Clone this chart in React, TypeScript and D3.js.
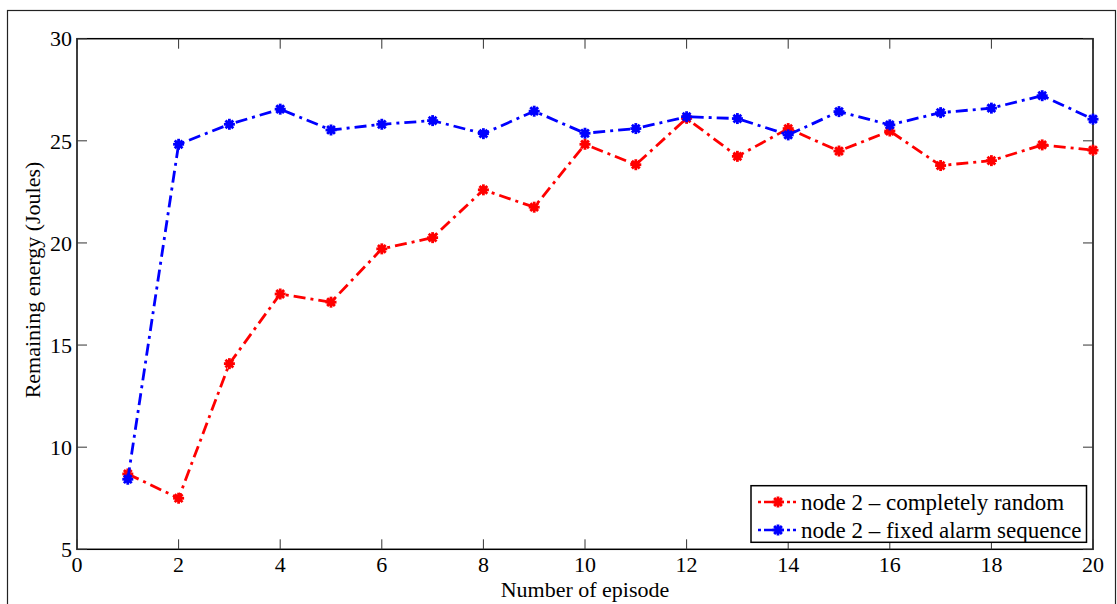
import React, { useEffect, useRef } from 'react'
import * as d3 from 'd3'

// episodes 1..20
const episodes = d3.range(1, 21)

// node 2 - completely random
const randomSeq = [
    8.69, 7.5, 14.09, 17.5, 17.1, 19.71, 20.26, 22.6, 21.75, 24.83,
    23.83, 26.1, 24.24, 25.6, 24.5, 25.48, 23.79, 24.03, 24.8, 24.54,
]

// node 2 - fixed alarm sequence
const fixedSeq = [
    8.43, 24.83, 25.81, 26.55, 25.53, 25.81, 25.99, 25.35, 26.45, 25.37,
    25.6, 26.18, 26.09, 25.29, 26.43, 25.78, 26.38, 26.6, 27.21, 26.06,
]

const xTicks = [0, 2, 4, 6, 8, 10, 12, 14, 16, 18, 20]
const yTicks = [5, 10, 15, 20, 25, 30]

const series = [
    { name: 'node 2 \u2013 completely random', color: '#ff0000', values: randomSeq },
    { name: 'node 2 \u2013 fixed alarm sequence', color: '#0000ff', values: fixedSeq },
]

const W = 1117
const H = 604
const FONT = '"Liberation Serif", "DejaVu Serif", serif'
const DASH = '12,5,3,5'

const drawMarker = (g, x: number, y: number, color: string) => {
    const r = 5.5
    const m = g.append('g').attr('transform', `translate(${x},${y})`)
    ;[0, 45, 90, 135].forEach(a => {
        const rad = (a * Math.PI) / 180
        m.append('line')
            .attr('x1', -r * Math.cos(rad))
            .attr('y1', -r * Math.sin(rad))
            .attr('x2', r * Math.cos(rad))
            .attr('y2', r * Math.sin(rad))
            .attr('stroke', color)
            .attr('stroke-width', 2.8)
    })
    m.append('circle').attr('r', 3.8).attr('fill', color)
}

const create = (el: SVGSVGElement) => {
    const svg = d3.select(el)
    svg.selectAll('*').remove()

    const left = 77, right = 1093, top = 38.7, bottom = 549.3

    const x = d3.scaleLinear().domain([0, 20]).range([left, right])
    const y = d3.scaleLinear().domain([5, 30]).range([bottom, top])

    // Outer figure frame
    svg.append('rect')
        .attr('x', 7.5).attr('y', 10.5)
        .attr('width', 1108).attr('height', 640)
        .attr('fill', 'white').attr('stroke', '#222').attr('stroke-width', 1.2)

    // Plot box
    svg.append('rect')
        .attr('x', left).attr('y', top)
        .attr('width', right - left).attr('height', bottom - top)
        .attr('fill', 'white').attr('stroke', 'black').attr('stroke-width', 1.5)

    const tickLen = 10
    const ticks = svg.append('g').attr('stroke', '#333').attr('stroke-width', 1)
    xTicks.forEach(t => {
        ticks.append('line').attr('x1', x(t)).attr('x2', x(t)).attr('y1', bottom).attr('y2', bottom - tickLen)
        ticks.append('line').attr('x1', x(t)).attr('x2', x(t)).attr('y1', top).attr('y2', top + tickLen)
    })
    yTicks.forEach(t => {
        ticks.append('line').attr('x1', left).attr('x2', left + tickLen).attr('y1', y(t)).attr('y2', y(t))
        ticks.append('line').attr('x1', right).attr('x2', right - tickLen).attr('y1', y(t)).attr('y2', y(t))
    })

    // Tick labels
    svg.append('g')
        .selectAll('text')
        .data(xTicks)
        .join('text')
        .attr('x', d => x(d))
        .attr('y', 572)
        .attr('text-anchor', 'middle')
        .attr('font-family', FONT)
        .attr('font-size', 22)
        .text(d => d)

    svg.append('g')
        .selectAll('text')
        .data(yTicks)
        .join('text')
        .attr('x', 72)
        .attr('y', d => y(d))
        .attr('dy', '0.35em')
        .attr('text-anchor', 'end')
        .attr('font-family', FONT)
        .attr('font-size', 22)
        .text(d => d)

    // Axis titles
    svg.append('text')
        .attr('x', 585)
        .attr('y', 597)
        .attr('text-anchor', 'middle')
        .attr('font-family', FONT)
        .attr('font-size', 22)
        .text('Number of episode')

    svg.append('text')
        .attr('transform', 'translate(40,280) rotate(-90)')
        .attr('text-anchor', 'middle')
        .attr('font-family', FONT)
        .attr('font-size', 22)
        .text('Remaining energy (Joules)')

    // Series
    const line = d3.line<number>()
        .x((_, i) => x(episodes[i]))
        .y(d => y(d))

    series.forEach(s => {
        svg.append('path')
            .datum(s.values)
            .attr('d', line)
            .attr('fill', 'none')
            .attr('stroke', s.color)
            .attr('stroke-width', 2.8)
            .attr('stroke-dasharray', DASH)
        const mg = svg.append('g')
        s.values.forEach((v, i) => drawMarker(mg, x(episodes[i]), y(v), s.color))
    })

    // Legend
    const lg = svg.append('g')
    lg.append('rect')
        .attr('x', 751).attr('y', 485.7)
        .attr('width', 335.5).attr('height', 56.6)
        .attr('fill', 'white').attr('stroke', 'black').attr('stroke-width', 1.5)
    series.forEach((s, i) => {
        const ly = 502 + i * 28
        lg.append('line')
            .attr('x1', 758).attr('x2', 798).attr('y1', ly).attr('y2', ly)
            .attr('stroke', s.color).attr('stroke-width', 2.6)
            .attr('stroke-dasharray', '3,3,14,3,3,3,3')
        drawMarker(lg, 778, ly, s.color)
        lg.append('text')
            .attr('x', 801)
            .attr('y', ly)
            .attr('dy', '0.33em')
            .attr('font-family', FONT)
            .attr('font-size', 23)
            .text(s.name)
    })
}

export default function App() {
    const ref = useRef<SVGSVGElement>(null)
    useEffect(() => {
        if (ref.current) create(ref.current)
    }, [])
    return (
        <div style={{ position: 'fixed', left: 0, top: 0 }}>
            <svg ref={ref} width={W} height={H} style={{ display: 'block', background: 'white' }} />
        </div>
    )
}
